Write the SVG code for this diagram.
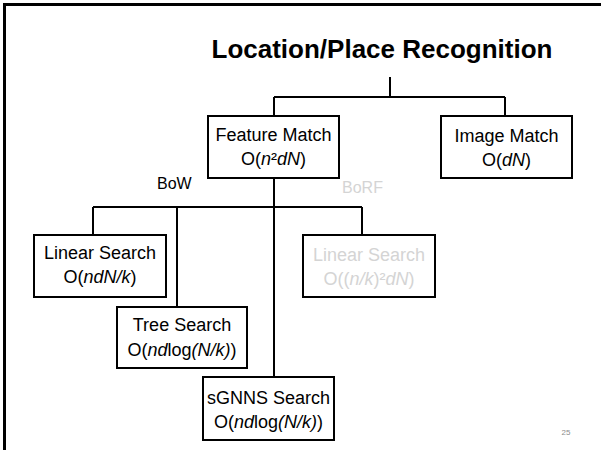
<svg xmlns="http://www.w3.org/2000/svg" width="601" height="450" viewBox="0 0 601 450">
<style>
  .box { fill: #ffffff; stroke: #000000; stroke-width: 2; }
  .t { font-family: "Liberation Sans", Arial, sans-serif; font-size: 18px; fill: #000000; text-anchor: middle; }
  .g { fill: #d4d4d4; }
  .i { font-style: italic; }
  .conn { stroke: #000000; stroke-width: 2; fill: none; }
</style>
<rect width="601" height="450" fill="#ffffff"/>
<path d="M4.5 450 V4.5 H601" fill="none" stroke="#000000" stroke-width="3"/>
<text id="title" x="382" y="58" font-family="'Liberation Sans', Arial, sans-serif" font-size="26" font-weight="bold" text-anchor="middle" fill="#000000">Location/Place Recognition</text>
<g id="connectors">
  <path class="conn" d="M390 77 V97"/>
  <path class="conn" d="M274 97 H505"/>
  <path class="conn" d="M274 97 V116"/>
  <path class="conn" d="M505 97 V116"/>
  <path class="conn" d="M274 178 V377"/>
  <path class="conn" d="M93 207 H362"/>
  <path class="conn" d="M93 207 V235"/>
  <path class="conn" d="M177 207 V307"/>
  <path class="conn" d="M362 207 V235"/>
</g>
<text id="bow" class="t" x="157" y="189" font-size="16" text-anchor="start" style="font-size:16px;text-anchor:start">BoW</text>
<text id="borf" class="t g" x="342" y="193" style="font-size:16px;text-anchor:start">BoRF</text>
<g id="feature-match">
  <rect class="box" x="208" y="116" width="131" height="62"/>
  <text class="t" x="273.5" y="141">Feature Match</text>
  <text class="t" x="273.5" y="165">O(<tspan class="i">n</tspan>²<tspan class="i">dN</tspan>)</text>
</g>
<g id="image-match">
  <rect class="box" x="441" y="116" width="131" height="62"/>
  <text class="t" x="506.5" y="142">Image Match</text>
  <text class="t" x="506.5" y="166">O(<tspan class="i">dN</tspan>)</text>
</g>
<g id="linear-search">
  <rect class="box" x="34" y="235" width="132" height="62"/>
  <text class="t" x="100" y="259">Linear Search</text>
  <text class="t" x="100" y="283">O(<tspan class="i">ndN/k</tspan>)</text>
</g>
<g id="linear-search-borf">
  <rect class="box" x="303" y="235" width="132" height="62"/>
  <text class="t g" x="369" y="261">Linear Search</text>
  <text class="t g" x="369" y="285">O((<tspan class="i">n/k</tspan>)²<tspan class="i">dN</tspan>)</text>
</g>
<g id="tree-search">
  <rect class="box" x="117" y="307" width="130" height="61"/>
  <text class="t" x="182" y="331">Tree Search</text>
  <text class="t" x="182" y="356">O(<tspan class="i">nd</tspan>log<tspan class="i">(N/k)</tspan>)</text>
</g>
<g id="sgnns-search">
  <rect class="box" x="203" y="377" width="131" height="63"/>
  <text class="t" x="268.5" y="404">sGNNS Search</text>
  <text class="t" x="268.5" y="428">O(<tspan class="i">nd</tspan>log<tspan class="i">(N/k)</tspan>)</text>
</g>
<text id="page-number" x="566" y="435" font-family="'Liberation Sans', Arial, sans-serif" font-size="8" fill="#8c8c8c" text-anchor="middle">25</text>
</svg>
